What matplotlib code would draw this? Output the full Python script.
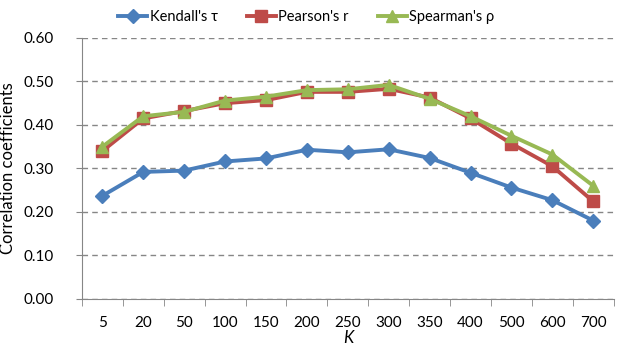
import numpy as np
import matplotlib.pyplot as plt

plt.rcParams['font.family'] = ['Lato', 'DejaVu Sans']

k_labels = ["5", "20", "50", "100", "150", "200", "250", "300", "350", "400", "500", "600", "700"]
kendall = [0.237, 0.292, 0.295, 0.316, 0.323, 0.343, 0.337, 0.344, 0.324, 0.290, 0.256, 0.227, 0.180]
pearson = [0.340, 0.415, 0.432, 0.450, 0.457, 0.476, 0.476, 0.483, 0.463, 0.415, 0.357, 0.305, 0.224]
spearman = [0.350, 0.420, 0.430, 0.456, 0.465, 0.480, 0.482, 0.492, 0.460, 0.420, 0.375, 0.332, 0.260]

fig = plt.figure(figsize=(6.25, 3.48), dpi=100)
ax = fig.add_axes([0.131, 0.141, 0.851, 0.750])

x = np.arange(len(k_labels))
ax.plot(x, kendall, color="#4a7ebb", lw=2.8, marker="D", ms=7, label="Kendall's τ")
ax.plot(x, pearson, color="#be4b48", lw=2.8, marker="s", ms=8, label="Pearson's r")
ax.plot(x, spearman, color="#98b954", lw=2.8, marker="^", ms=8, label="Spearman's ρ")

ax.set_xlim(-0.5, len(k_labels) - 0.5)
ax.set_ylim(0, 0.6)
ax.set_yticks(np.arange(0, 0.61, 0.1))
ax.set_yticklabels([f"{v:.2f}" for v in np.arange(0, 0.61, 0.1)], fontsize=11)
ax.set_xticks(x)
ax.set_xticklabels(k_labels, fontsize=11)
ax.set_xticks(np.arange(-0.5, len(k_labels)), minor=True)
ax.tick_params(axis="x", which="major", length=0, pad=12)
ax.tick_params(axis="x", which="minor", length=5, color="#868686")
ax.tick_params(axis="y", length=4, color="#868686", pad=16)

for s in ["top", "right"]:
    ax.spines[s].set_visible(False)
for s in ["left", "bottom"]:
    ax.spines[s].set_color("#868686")
ax.grid(axis="y", ls=(0, (4, 3)), color="#868686", lw=1)
ax.set_axisbelow(True)

ax.set_ylabel("Correlation coefficients", fontsize=12, labelpad=6)
ax.set_xlabel("K", fontsize=12, style="italic", labelpad=0)

fig.legend(loc="upper center", bbox_to_anchor=(0.49, 1.01), ncol=3, frameon=False,
           fontsize=10.5, handlelength=2.0, columnspacing=2.0, handletextpad=0.15)

fig.savefig("out.png", dpi=100)
